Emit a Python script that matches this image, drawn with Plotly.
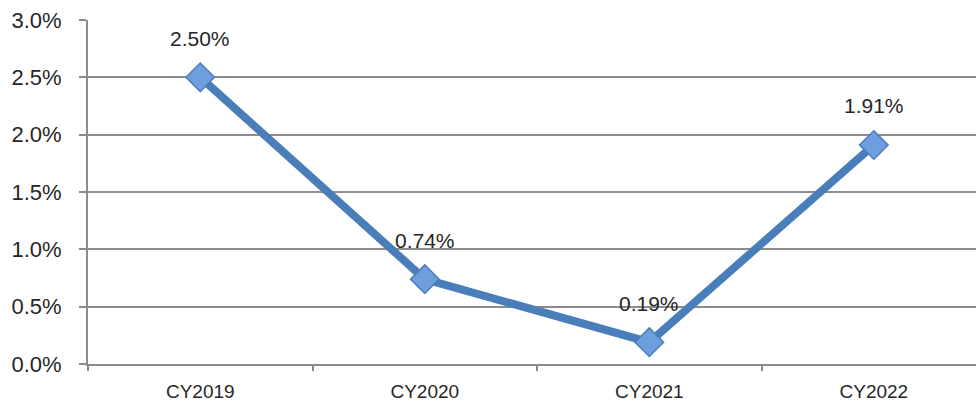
import plotly.graph_objects as go

categories = ["CY2019", "CY2020", "CY2021", "CY2022"]
values = [0.0250, 0.0074, 0.0019, 0.0191]
labels = ["2.50%", "0.74%", "0.19%", "1.91%"]
y_ticks = [0.0, 0.005, 0.010, 0.015, 0.020, 0.025, 0.030]
y_tick_text = ["0.0%", "0.5%", "1.0%", "1.5%", "2.0%", "2.5%", "3.0%"]

LINE = "#4A7EBB"
GRID = "#8C8C8C"
TXT = "#262626"
FONT = "Liberation Sans"

fig = go.Figure()
fig.add_trace(go.Scatter(
    x=categories, y=values, mode="lines+markers",
    line=dict(color=LINE, width=8),
    marker=dict(symbol="diamond", size=22, color="#6E9EE0",
                line=dict(color="#4A7EBB", width=1.5)),
    hoverinfo="skip", showlegend=False,
))

for c, v, t in zip(categories, values, labels):
    fig.add_annotation(x=c, y=v, text=t, showarrow=False, yshift=39,
                       font=dict(family=FONT, size=21, color=TXT))

fig.update_layout(
    width=976, height=404,
    margin=dict(l=88, r=0, t=20, b=40),
    paper_bgcolor="white", plot_bgcolor="white",
    font=dict(family=FONT, color=TXT),
)
fig.update_xaxes(
    type="category", range=[-0.5, 3.455],
    showgrid=False, showline=True, linecolor=GRID, linewidth=2,
    ticks="outside", tickson="boundaries", ticklen=5, tickcolor=GRID, tickwidth=2,
    tickfont=dict(family=FONT, size=19, color=TXT),
    ticklabelstandoff=9,
)
fig.update_yaxes(
    range=[0, 0.030], tickvals=y_ticks, ticktext=y_tick_text,
    showgrid=True, gridcolor=GRID, gridwidth=2, zeroline=False,
    showline=True, linecolor=GRID, linewidth=2,
    ticks="outside", ticklen=7, tickcolor=GRID, tickwidth=2,
    tickfont=dict(family=FONT, size=22, color=TXT),
    ticklabelstandoff=13,
)

# remove the page's default 8px body margin so the figure sits at the top-left corner
fig.write_html("out.html", config={"displayModeBar": False},
               post_script="document.body.style.margin='0';document.body.style.overflow='hidden';")
